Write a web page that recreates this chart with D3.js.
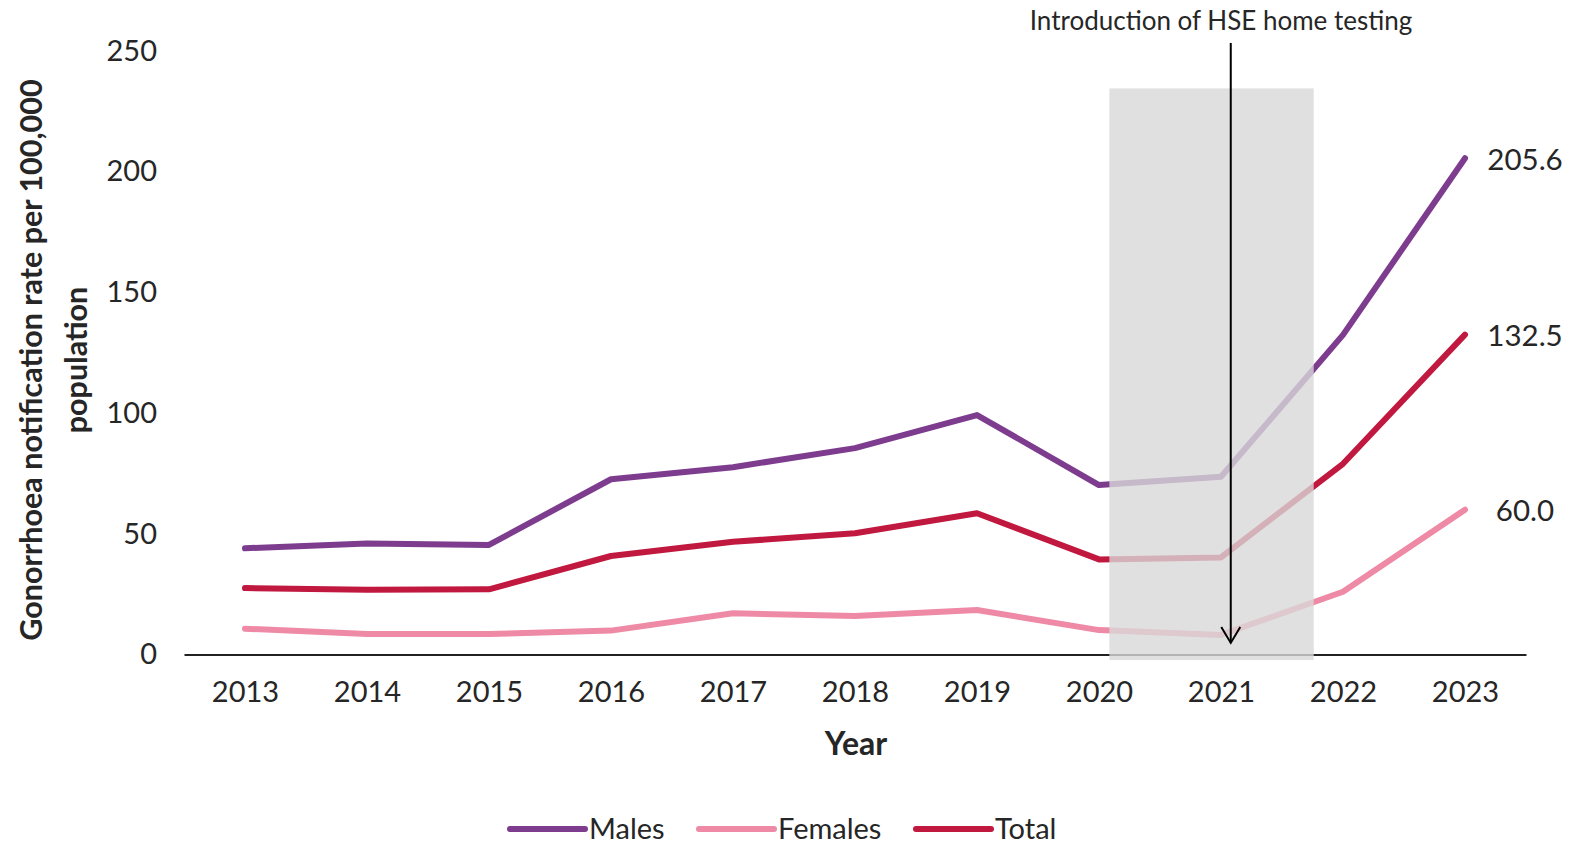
<!DOCTYPE html>
<html>
<head>
<meta charset="utf-8">
<script src="https://cdn.jsdelivr.net/npm/d3@7"></script>
<style>
  html, body { margin: 0; padding: 0; background: #ffffff; }
  svg { display: block; }
  text { font-family: Lato, "Open Sans", sans-serif; fill: #262626; }
</style>
</head>
<body>
<svg id="chart" width="1591" height="843"></svg>
<script>
// ---- data ----
const years = [2013, 2014, 2015, 2016, 2017, 2018, 2019, 2020, 2021, 2022, 2023];
const males   = [44.0, 46.0, 45.4, 72.6, 77.6, 85.5, 99.2, 70.2, 73.6, 132.4, 205.6];
const females = [10.7, 8.5, 8.5, 9.9, 17.1, 15.9, 18.4, 10.1, 8.1, 26.0, 60.0];
const total   = [27.5, 26.8, 27.0, 40.8, 46.7, 50.2, 58.5, 39.4, 40.2, 79.0, 132.5];
const yTicks = [0, 50, 100, 150, 200, 250];
const seriesNames = ["Males", "Females", "Total"];
const seriesColors = ["#7d3c8e", "#ee8aa6", "#c0183f"];
const endLabels = ["205.6", "60.0", "132.5"];
const yTitleLines = ["Gonorrhoea notification rate per 100,000", "population"];
const xTitle = "Year";
const annotationText = "Introduction of HSE home testing";
const shadeYears = [2020.085, 2021.76];   // shaded period (in year units)
const arrowYear = 2021.08;

// ---- layout ----
const svg = d3.select("#chart");
const x = d3.scaleLinear().domain([2012.5, 2023.5]).range([184, 1526]);
const y = d3.scaleLinear().domain([0, 250]).range([654.5, 51]);

// y tick labels (no axis line)
const yAxis = d3.axisLeft(y).tickValues(yTicks).tickSize(0).tickPadding(0);
const gy = svg.append("g").attr("transform", "translate(157,0)").call(yAxis);
gy.select(".domain").remove();
gy.selectAll("text").style("font-family", "Lato, sans-serif").style("font-size", "29px").attr("fill", "#262626");

// x axis
const xAxis = d3.axisBottom(x).tickValues(years).tickFormat(d3.format("d")).tickSize(0).tickPadding(27);
const gx = svg.append("g").attr("transform", `translate(0,${y(0)})`).call(xAxis);
gx.select(".domain").attr("stroke", "#222").attr("stroke-width", 2.2);
gx.selectAll("text").style("font-family", "Lato, sans-serif").style("font-size", "29px").attr("fill", "#262626");

// series lines
const seriesData = [males, females, total];
const line = d3.line().x((d, i) => x(years[i])).y(d => y(d));
const drawOrder = [0, 2, 1];
drawOrder.forEach(k => {
  svg.append("path")
    .datum(seriesData[k])
    .attr("d", line)
    .attr("fill", "none")
    .attr("stroke", seriesColors[k])
    .attr("stroke-width", 6)
    .attr("stroke-linejoin", "round")
    .attr("stroke-linecap", "round");
});

// end labels
seriesData.forEach((s, k) => {
  svg.append("text")
    .attr("x", x(years[years.length - 1]) + 60)
    .attr("y", y(s[s.length - 1]))
    .attr("text-anchor", "middle")
    .attr("dominant-baseline", "central")
    .style("font-size", "29.5px")
    .text(endLabels[k]);
});

// shaded period on top (semi-transparent)
svg.append("rect")
  .attr("x", x(shadeYears[0]))
  .attr("y", y(234.5))
  .attr("width", x(shadeYears[1]) - x(shadeYears[0]))
  .attr("height", y(-2.3) - y(234.5))
  .attr("fill", "#d8d8d8")
  .attr("opacity", 0.8);

// annotation arrow
const ax = x(arrowYear);
const aTop = y(253.3), aBot = y(4.8);
svg.append("line")
  .attr("x1", ax).attr("x2", ax).attr("y1", aTop).attr("y2", aBot)
  .attr("stroke", "#000").attr("stroke-width", 2);
svg.append("path")
  .attr("d", `M${ax - 9.5},${aBot - 16} L${ax},${aBot} L${ax + 9.5},${aBot - 16}`)
  .attr("fill", "none").attr("stroke", "#000").attr("stroke-width", 2);

svg.append("text")
  .attr("x", x(2021))
  .attr("y", 20)
  .attr("text-anchor", "middle")
  .attr("dominant-baseline", "central")
  .style("font-size", "26px")
  .attr("fill", "#111")
  .text(annotationText);

// y axis title
const yt = svg.append("text")
  .attr("transform", "translate(30,360) rotate(-90)")
  .attr("text-anchor", "middle")
  .style("font-size", "30.5px")
  .style("font-weight", "bold")
  .attr("fill", "#111");
yTitleLines.forEach((t, i) => {
  yt.append("tspan").attr("x", 0).attr("y", i * 45).attr("dominant-baseline", "central").text(t);
});

// x axis title
svg.append("text")
  .attr("x", 856).attr("y", 742)
  .attr("text-anchor", "middle")
  .attr("dominant-baseline", "central")
  .style("font-size", "32px")
  .style("font-weight", "bold")
  .attr("fill", "#111")
  .text(xTitle);

// legend
const legendX = [510, 699, 916];
const legendY = 827;
seriesNames.forEach((n, k) => {
  svg.append("line")
    .attr("x1", legendX[k]).attr("x2", legendX[k] + 75)
    .attr("y1", legendY + 2).attr("y2", legendY + 2)
    .attr("stroke", seriesColors[k]).attr("stroke-width", 6).attr("stroke-linecap", "round");
  svg.append("text")
    .attr("x", legendX[k] + 79).attr("y", legendY)
    .attr("dominant-baseline", "central")
    .style("font-size", "29px")
    .text(n);
});
</script>
</body>
</html>
